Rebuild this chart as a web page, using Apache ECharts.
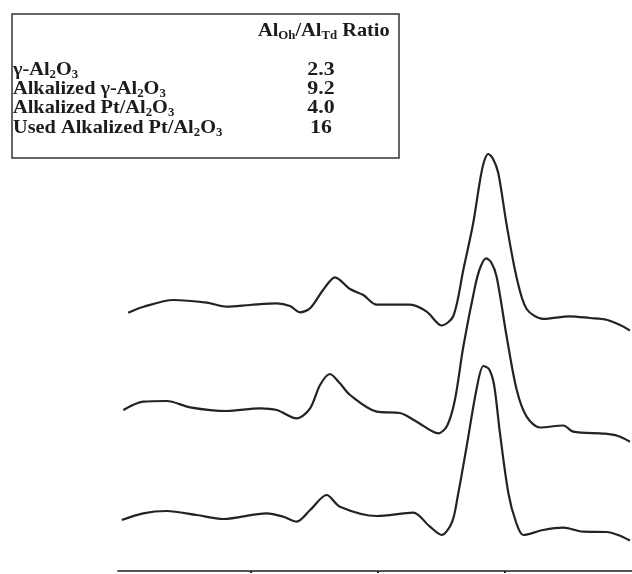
<!DOCTYPE html>
<html>
<head>
<meta charset="utf-8">
<script src="https://cdn.jsdelivr.net/npm/echarts@6/dist/echarts.min.js"></script>
<style>
html,body{margin:0;padding:0;background:#fff;}
#chart{width:632px;height:574px;}
</style>
</head>
<body>
<div id="chart"></div>
<script>
// Chemical shift (ppm) and intensity (arbitrary units, relative to each trace's baseline)
const topPpm = [148,142.2,130.3,117.1,109.3,100.1,89.6,84.4,80.5,76.5,71.4,66.7,60.8,55.6,50.3,37.2,30.7,24.8,20.2,16.3,12.4,9.7,8.2,6.5,4.6,2.55,-0.75,-4.7,-8.6,-15.1,-25.6,-33.5,-40,-45.3,-49.2];
const topInt = [-7.7,-2,5,2.3,-1.7,0,1.7,-1,-7.3,-3.3,15,27.7,16,10,0.3,0.3,-6.7,-20.5,-11,35,82,125,143,151,146,132,80,27,-4,-13.8,-11.3,-13,-14.7,-20,-25.5];

const midPpm = [149.9,142.1,132.9,123.7,109.3,96.2,89.6,81.8,76.5,72.6,68.7,64.8,60.8,50.3,41.2,34.6,26.1,22.7,19.6,16.3,11.7,9.7,7.4,5.4,3.2,-0.75,-4.7,-8.6,-13.8,-23,-26.9,-39.4,-44.5,-49.2];
const midInt = [0,8.3,9,2.7,-1,1.7,0,-8.3,1.7,25,36,26.7,15,-1.7,-3,-11.7,-23.3,-16,10,63.3,123.3,142,151.7,148,133.3,73.3,20,-6.7,-17.5,-15.5,-21.7,-23.7,-26,-31.7];

const botPpm = [150.5,142.1,132.9,121.1,110.6,93.6,87,81.8,76.5,70,64.8,50.3,36,29.4,24.8,20.7,18.4,15,11,8.4,6.2,4.2,1.9,-1.4,-4.4,-7.3,-15.1,-23,-30.9,-40,-44.5,-49.2];
const botInt = [-5,1.7,4,0,-4,1.7,-1.7,-6.7,5,20,8.3,-1,2.3,-11.7,-20,-7,20,68.3,127,149,146,130,82,22,-7,-20,-15,-12.7,-16.7,-17,-20,-25.5];

// Vertical stacking offsets of the three spectra
const traceOffsets = [266, 161, 56];

// Axis tick positions (ppm)
const tickPpm = [100, 50, 0];

// Table contents
const tableHeader = ['Al', 'Oh', '/Al', 'Td', ' Ratio'];
const sampleNames = [
  ['γ-Al', '2', 'O', '3'],
  ['Alkalized γ-Al', '2', 'O', '3'],
  ['Alkalized Pt/Al', '2', 'O', '3'],
  ['Used Alkalized Pt/Al', '2', 'O', '3']
];
const ratios = ['2.3', '9.2', '4.0', '16'];

function pairs(xs, ys, off) {
  return xs.map((x, i) => [x, ys[i] + off]);
}

const FONT = '"Liberation Serif", "DejaVu Serif", serif';
const rich = {
  n: { fontSize: 19, fontFamily: FONT, fontWeight: 'bold', fill: '#1c1c1c', lineHeight: 21 },
  s: { fontSize: 12, fontFamily: FONT, fontWeight: 'bold', fill: '#1c1c1c', lineHeight: 21, verticalAlign: 'bottom' }
};

function subText(parts) {
  return parts.map((p, i) => (i % 2 === 0 ? '{n|' + p + '}' : '{s|' + p + '}')).join('');
}

const SX = 1.07;
const graphics = [];
graphics.push({
  type: 'rect', shape: { x: 12, y: 14, width: 387, height: 144 },
  style: { fill: 'none', stroke: '#333', lineWidth: 1.5 }, z: 10
});
graphics.push({
  type: 'text', x: 258, y: 21, scaleX: SX,
  style: { text: subText(tableHeader), rich: rich }, z: 10
});
const rowY = [60, 79, 98, 118];
sampleNames.forEach((nm, i) => {
  graphics.push({ type: 'text', x: 13, y: rowY[i], scaleX: SX, style: { text: subText(nm), rich: rich }, z: 10 });
  graphics.push({
    type: 'text', x: 321, y: rowY[i], scaleX: 1.15,
    style: { text: '{n|' + ratios[i] + '}', rich: rich, align: 'center' }, z: 10
  });
});

const chart = echarts.init(document.getElementById('chart'));
const lineStyle = { color: '#232323', width: 2.2 };
chart.setOption({
  animation: false,
  backgroundColor: '#fff',
  grid: { left: 118, right: 0, top: 0, bottom: 3 },
  xAxis: {
    type: 'value', inverse: true, min: -50, max: 152, interval: 50,
    axisLine: { show: true, onZero: false, lineStyle: { color: '#555', width: 2 } },
    axisTick: { show: true, inside: false, length: 2, customValues: tickPpm, lineStyle: { color: '#222', width: 2 } },
    axisLabel: { show: false },
    splitLine: { show: false }
  },
  yAxis: {
    type: 'value', min: 0, max: 571,
    axisLine: { show: false }, axisTick: { show: false }, axisLabel: { show: false }, splitLine: { show: false }
  },
  series: [
    { type: 'line', data: pairs(topPpm, topInt, traceOffsets[0]), showSymbol: false, smooth: 0.3, lineStyle: lineStyle },
    { type: 'line', data: pairs(midPpm, midInt, traceOffsets[1]), showSymbol: false, smooth: 0.3, lineStyle: lineStyle },
    { type: 'line', data: pairs(botPpm, botInt, traceOffsets[2]), showSymbol: false, smooth: 0.3, lineStyle: lineStyle }
  ],
  graphic: graphics
});
</script>
</body>
</html>
